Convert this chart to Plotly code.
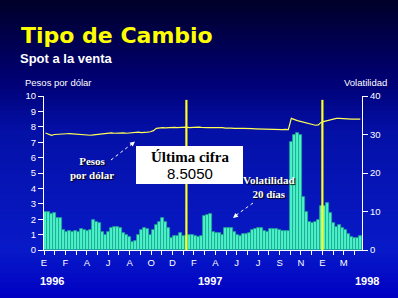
import plotly.graph_objects as go

# ---------------- data ----------------
# months since Jan-1996 for tick marks / labels
meses_labels = ["E", "F", "A", "J", "A", "O", "D", "F", "A", "J", "J", "S", "N", "E", "M"]
anios = ["1996", "1997", "1998"]
anios_pos = [0.75, 15.5, 30.2]          # months
eventos = [13.3, 26.0]                  # months (vertical yellow markers)

paso = 0.28                              # months per observation
x_max = 29.7                             # months shown

# 20-day volatility (%)
volatilidad = [
    9.8, 9.8, 9.4, 9.6, 8.4, 8.2, 5.2, 4.8, 5.0, 4.6,
    5.0, 4.8, 5.4, 5.2, 5.0, 5.3, 7.8, 7.2, 6.9, 4.6,
    4.0, 4.8, 5.6, 6.0, 6.0, 5.6, 4.4, 3.8, 3.4, 2.2,
    2.4, 4.0, 5.2, 5.6, 5.4, 4.0, 5.2, 6.4, 7.4, 8.2,
    7.2, 5.8, 3.0, 3.6, 3.6, 4.4, 3.6, 3.6, 4.0, 3.8,
    3.6, 3.4, 3.6, 8.8, 9.0, 9.3, 4.8, 4.5, 4.4, 4.0,
    5.6, 5.6, 5.6, 4.6, 4.0, 3.6, 4.2, 4.2, 4.4, 5.2,
    5.4, 5.6, 5.8, 5.0, 4.8, 5.4, 5.4, 5.4, 5.2, 5.0,
    5.0, 5.0, 28.0, 30.0, 30.5, 30.0, 13.7, 10.0, 7.2, 7.0,
    7.3, 7.7, 11.5, 11.5, 12.2, 9.5, 7.0, 6.0, 6.6, 5.6,
    5.3, 4.2, 3.4, 3.2, 3.2, 3.6,
]

# pesos por dólar
pesos = [
    7.60, 7.50, 7.45, 7.50, 7.52, 7.55, 7.55, 7.55, 7.56, 7.54,
    7.55, 7.50, 7.47, 7.45, 7.47, 7.45, 7.48, 7.50, 7.55, 7.58,
    7.60, 7.62, 7.60, 7.58, 7.60, 7.62, 7.60, 7.58, 7.60, 7.60,
    7.62, 7.65, 7.62, 7.62, 7.65, 7.68, 7.75, 7.90, 7.95, 7.95,
    7.93, 7.95, 7.97, 7.96, 7.95, 7.97, 8.00, 7.98, 7.95, 7.97,
    7.98, 7.98, 7.96, 7.97, 7.95, 7.94, 7.95, 7.93, 7.95, 7.94,
    7.92, 7.93, 7.92, 7.90, 7.92, 7.90, 7.90, 7.88, 7.90, 7.88,
    7.87, 7.86, 7.85, 7.85, 7.84, 7.85, 7.83, 7.84, 7.82, 7.82,
    7.83, 7.82, 8.55, 8.45, 8.40, 8.35, 8.30, 8.25, 8.15, 8.10,
    8.10, 8.12, 8.30, 8.35, 8.40, 8.50, 8.55, 8.55, 8.55, 8.53,
    8.52, 8.50, 8.50, 8.50, 8.50, 8.50,
]

x = [(i + 0.5) * paso for i in range(len(volatilidad))]

# ---------------- layout helpers ----------------
W, H = 398, 298
L, R, T, B = 44, 36, 96, 48
PW, PH = W - L - R, H - T - B


def px(xp):
    return (xp - L) / PW


def py(yp):
    return (H - B - yp) / PH


fig = go.Figure()

fig.add_trace(go.Bar(
    x=x, y=volatilidad, yaxis="y", xaxis="x", width=paso,
    marker=dict(color="#4cf2c8", line=dict(color="#1ca68e", width=0.8)),
    showlegend=False, hoverinfo="skip",
))
fig.add_trace(go.Scatter(
    x=x, y=pesos, yaxis="y2", mode="lines",
    line=dict(color="#ffff55", width=1.2), showlegend=False, hoverinfo="skip",
))

shapes = []
# background gradient
stops = [(0, (0, 0, 40)), (80, (0, 0, 115)), (130, (4, 16, 165)),
         (250, (8, 26, 200)), (298, (0, 0, 195))]


def col_at(yp):
    for (y0, c0), (y1, c1) in zip(stops[:-1], stops[1:]):
        if y0 <= yp <= y1:
            t = (yp - y0) / (y1 - y0)
            return "rgb(%d,%d,%d)" % tuple(round(a + (b - a) * t) for a, b in zip(c0, c1))
    return "rgb(%d,%d,%d)" % stops[-1][1]


nb = 60
for k in range(nb):
    y0p = H * k / nb
    y1p = H * (k + 1) / nb + 0.6
    shapes.append(dict(type="rect", xref="paper", yref="paper", layer="below",
                       x0=px(-2), x1=px(W + 2), y0=py(y1p), y1=py(y0p),
                       fillcolor=col_at((y0p + y1p) / 2), line=dict(width=0)))

# vertical event lines
for e in eventos:
    shapes.append(dict(type="line", xref="x", yref="y2", x0=e, x1=e, y0=0, y1=9.75,
                       line=dict(color="#ffff20", width=2.2), layer="above"))

# white box
shapes.append(dict(type="rect", xref="paper", yref="paper",
                   x0=px(136), x1=px(243), y0=py(184), y1=py(146),
                   fillcolor="white", line=dict(width=0), layer="above"))

# dotted arrow shafts
shapes.append(dict(type="line", xref="paper", yref="paper",
                   x0=px(111), y0=py(160), x1=px(133), y1=py(143),
                   line=dict(color="white", width=1, dash="dot"), layer="above"))
shapes.append(dict(type="line", xref="paper", yref="paper",
                   x0=px(253), y0=py(203), x1=px(235), y1=py(216),
                   line=dict(color="white", width=1, dash="dot"), layer="above"))

ann = []
SANS = "Liberation Sans, Arial, sans-serif"
SERIF = "Liberation Serif, Times New Roman, serif"
SH = "1px 1px 1px black"

ann.append(dict(text="<b>Tipo de Cambio</b>", x=px(19), y=py(35), xanchor="left", yanchor="middle",
                font=dict(family="DejaVu Sans", size=22, color="#ffff00")))
ann.append(dict(text="<b>Spot a la venta</b>", x=px(18), y=py(58), xanchor="left", yanchor="middle",
                font=dict(family=SANS, size=13, color="white")))
ann.append(dict(text="Pesos por dólar", x=px(23), y=py(82), xanchor="left", yanchor="middle",
                font=dict(family=SANS, size=9.5, color="white")))
ann.append(dict(text="Volatilidad", x=px(389), y=py(82), xanchor="right", yanchor="middle",
                font=dict(family=SANS, size=9.5, color="white")))

ann.append(dict(text="<b>Pesos<br>por dólar</b>", x=px(92), y=py(168), xanchor="center", yanchor="middle",
                font=dict(family=SERIF, size=11, color="white", shadow=SH), align="center"))
ann.append(dict(text="<b>Volatilidad<br>20 días</b>", x=px(269), y=py(187), xanchor="center", yanchor="middle",
                font=dict(family=SERIF, size=11, color="white", shadow=SH), align="center"))
ann.append(dict(text="<b>Última cifra</b>", x=px(190), y=py(157), xanchor="center", yanchor="middle",
                font=dict(family=SERIF, size=15, color="black")))
ann.append(dict(text="8.5050", x=px(190), y=py(173), xanchor="center", yanchor="middle",
                font=dict(family=SANS, size=15, color="black")))

# arrow heads
ann.append(dict(text="", x=px(135), y=py(141.5), ax=-6, ay=5, showarrow=True,
                arrowhead=2, arrowsize=1, arrowwidth=1, arrowcolor="white"))
ann.append(dict(text="", x=px(233), y=py(218), ax=5, ay=-4, showarrow=True,
                arrowhead=2, arrowsize=1, arrowwidth=1, arrowcolor="white"))

for a, pos in zip(anios, anios_pos):
    ann.append(dict(text="<b>%s</b>" % a, x=pos / x_max, y=py(281),
                    xanchor="center", yanchor="middle",
                    font=dict(family=SANS, size=11, color="white")))

for a in ann:
    a.setdefault("xref", "paper")
    a.setdefault("yref", "paper")
    a.setdefault("showarrow", False)

tickvals = list(range(30))
ticktext = [meses_labels[m // 2] if m % 2 == 0 else "" for m in tickvals]

fig.update_layout(
    width=W, height=H,
    margin=dict(l=L, r=R, t=T, b=B, pad=0),
    paper_bgcolor="rgb(0,0,195)", plot_bgcolor="rgba(0,0,0,0)",
    bargap=0, showlegend=False,
    shapes=shapes, annotations=ann,
    xaxis=dict(range=[0, x_max], tickvals=tickvals, ticktext=ticktext,
               ticks="outside", ticklen=4, tickcolor="white", tickwidth=1,
               showline=True, linecolor="white", linewidth=1, showgrid=False, zeroline=False,
               tickfont=dict(family=SANS, size=9.5, color="white"), fixedrange=True),
    yaxis=dict(range=[0, 40], tickvals=[0, 10, 20, 30, 40], ticksuffix="%", side="right",
               ticks="outside", ticklen=5, tickcolor="white", showline=True, linecolor="white",
               showgrid=False, zeroline=False,
               tickfont=dict(family=SANS, size=9.5, color="white")),
    yaxis2=dict(range=[0, 10], dtick=1, side="left", overlaying="y",
                ticks="outside", ticklen=5, tickcolor="white", showline=True, linecolor="white",
                showgrid=False, zeroline=False,
                tickfont=dict(family=SANS, size=9.5, color="white")),
)

fig.write_html("out.html")
